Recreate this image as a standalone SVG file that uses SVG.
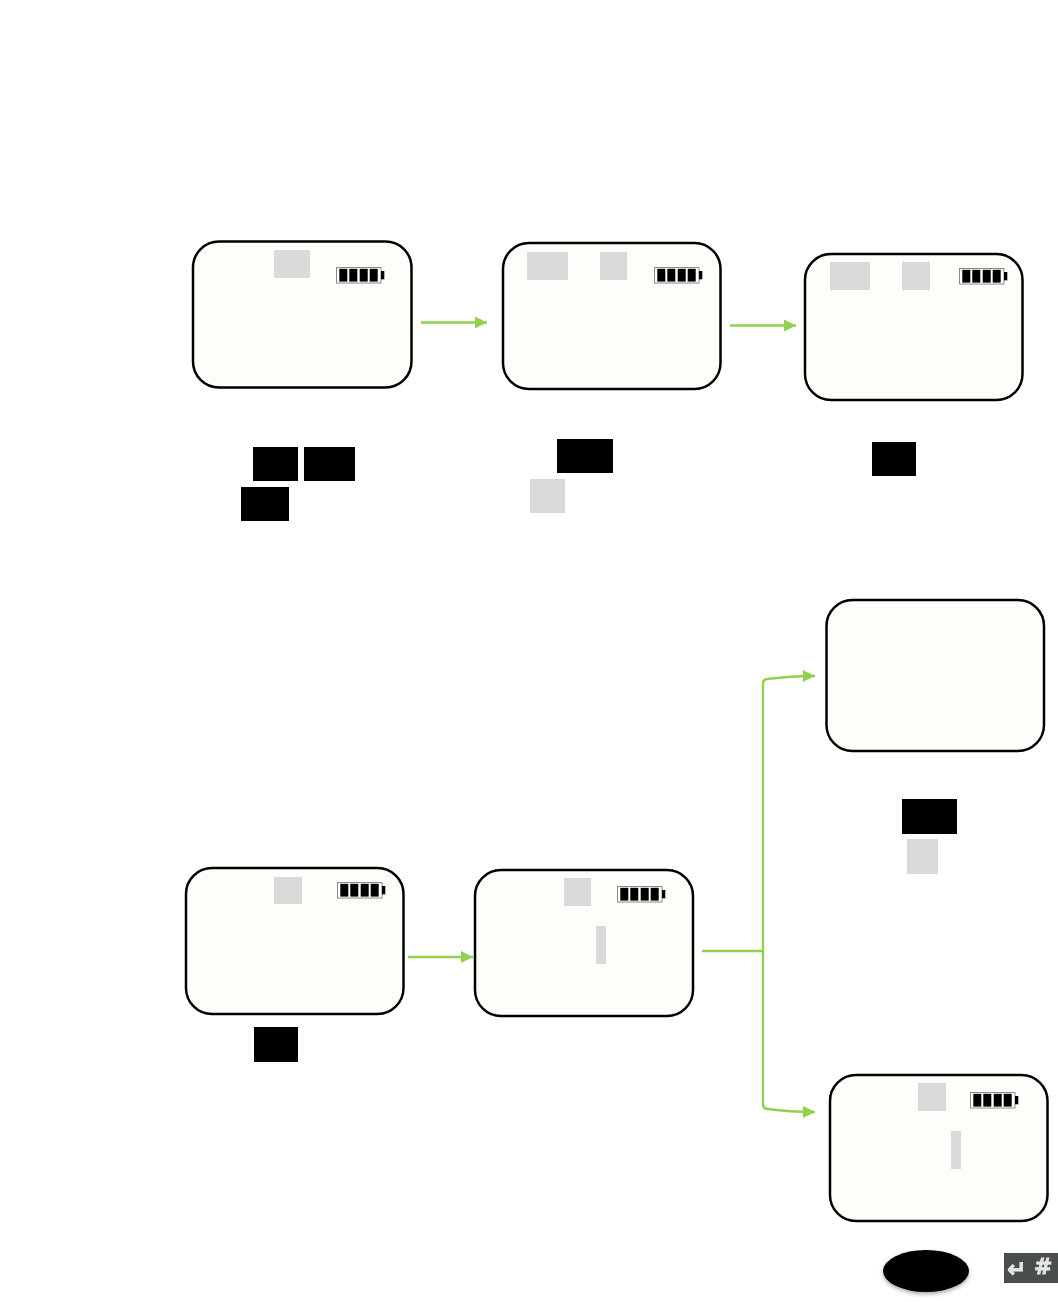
<svg xmlns="http://www.w3.org/2000/svg" width="1058" height="1302" viewBox="0 0 1058 1302">
<style>
.screen{fill:#fcfef9;stroke:#000;stroke-width:2.5}
.g{fill:#d9d9d9}
.k{fill:#000}
.c{fill:none;stroke:#92d050;stroke-width:2.4}
.ic{font-family:"DejaVu Sans",sans-serif;font-weight:700;fill:#e4e6e6;stroke:#e4e6e6;stroke-width:0.8}
</style>
<defs>
<marker id="ah" markerUnits="userSpaceOnUse" markerWidth="12" markerHeight="12" refX="12" refY="6" orient="auto"><path d="M0 0L12 6L0 12Z" fill="#92d050"/></marker>
<symbol id="bat" width="50" height="18" viewBox="0 0 50 18" overflow="visible">
<rect x="0.5" y="0.5" width="44.500" height="15.500" fill="#fff" stroke="#8a8a8a" stroke-width="1"/>
<rect x="3.300" y="1.800" width="8" height="12.800"/><rect x="13.300" y="1.800" width="8" height="12.800"/><rect x="23.700" y="1.800" width="8" height="12.800"/><rect x="33.700" y="1.800" width="8" height="12.800"/>
<rect x="45" y="4" width="3.300" height="8.300"/>
</symbol>
<filter id="sh" x="-20%" y="-20%" width="140%" height="160%"><feDropShadow dx="0" dy="2" stdDeviation="2" flood-color="#000" flood-opacity="0.35"/></filter>
<filter id="bl" x="-10%" y="-10%" width="120%" height="120%"><feGaussianBlur stdDeviation="0.7"/></filter>
</defs>
<rect width="1058" height="1302" fill="#fff"/>
<g id="connectors">
<path class="c" marker-end="url(#ah)" d="M421 322.500H487"/>
<path class="c" marker-end="url(#ah)" d="M730 325.500H796"/>
<path class="c" marker-end="url(#ah)" d="M408 957H473"/>
<path class="c" d="M702 951H763"/>
<path class="c" marker-end="url(#ah)" d="M763 951V684Q763 679 768 679Q790 676 815 676"/>
<path class="c" marker-end="url(#ah)" d="M763 951V1104Q763 1109 768 1109Q790 1112 815 1112"/>
</g>
<g id="screen1"><rect class="screen" x="193" y="241.500" width="218.500" height="146" rx="26"/><rect class="g" x="274" y="250" width="36" height="28"/><use href="#bat" x="336" y="267"/></g>
<g id="screen2"><rect class="screen" x="503" y="243" width="217.500" height="146" rx="26"/><rect class="g" x="527" y="252" width="41" height="28"/><rect class="g" x="600" y="252" width="27" height="28"/><use href="#bat" x="654" y="267"/></g>
<g id="screen3"><rect class="screen" x="805" y="254" width="217.500" height="146" rx="26"/><rect class="g" x="830" y="262" width="40" height="28"/><rect class="g" x="902" y="262" width="28" height="28"/><use href="#bat" x="959" y="268"/></g>
<g id="screen4"><rect class="screen" x="826.500" y="600" width="217.500" height="151" rx="26"/></g>
<g id="screen5"><rect class="screen" x="186" y="868" width="217.500" height="146" rx="26"/><rect class="g" x="274" y="877" width="28" height="27"/><use href="#bat" x="337" y="882"/></g>
<g id="screen6"><rect class="screen" x="475" y="870" width="218" height="146" rx="26"/><rect class="g" x="564" y="878" width="27" height="28"/><rect class="g" x="596" y="926" width="10" height="38"/><use href="#bat" x="617" y="886"/></g>
<g id="screen7"><rect class="screen" x="830" y="1075" width="217.500" height="146" rx="26"/><rect class="g" x="918" y="1083" width="28" height="28"/><rect class="g" x="951" y="1131" width="10" height="38"/><use href="#bat" x="970" y="1092"/></g>
<g id="labels">
<rect class="k" x="253" y="447" width="45" height="34"/><rect class="k" x="304" y="447" width="51" height="34"/><rect class="k" x="241" y="487" width="48" height="34"/>
<rect class="k" x="557" y="439" width="56" height="34"/><rect class="g" x="530" y="479" width="35" height="34"/>
<rect class="k" x="872" y="442" width="44" height="34"/>
<rect class="k" x="902" y="799" width="55" height="35"/><rect class="g" x="907" y="839" width="31" height="35"/>
<rect class="k" x="254" y="1027" width="44" height="35"/>
</g>
<g id="button"><ellipse cx="926" cy="1271" rx="43" ry="21" fill="#000" filter="url(#sh)"/></g>
<g id="key"><rect x="1004" y="1253" width="54" height="30" fill="#4a4d4d"/>
<g filter="url(#bl)"><text class="ic" x="1007" y="1277" font-size="23">↵</text><text class="ic" x="1034" y="1274" font-size="22" style="font-style:normal">#</text></g></g>
</svg>
